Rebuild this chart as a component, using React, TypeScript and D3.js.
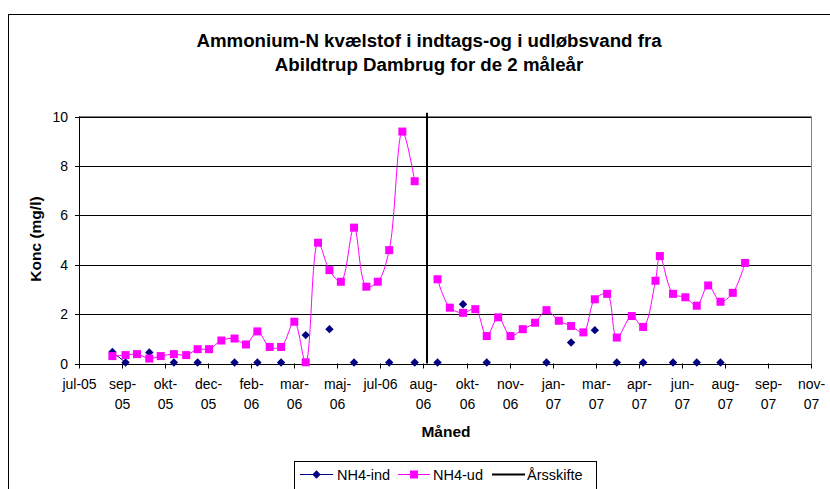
import React from 'react';
import * as d3 from 'd3';

// ---------- data ----------
const sampleDates = [
  '2005-08-30', '2005-09-14', '2005-09-27', '2005-10-11', '2005-10-24', '2005-11-08',
  '2005-11-22', '2005-12-05', '2005-12-18', '2006-01-01', '2006-01-16', '2006-01-29',
  '2006-02-11', '2006-02-25', '2006-03-10', '2006-03-25', '2006-04-07', '2006-04-21',
  '2006-05-04', '2006-05-17', '2006-06-01', '2006-06-15', '2006-06-28', '2006-07-11',
  '2006-07-26', '2006-08-09',
  '2006-09-04', '2006-09-18', '2006-10-03', '2006-10-17', '2006-10-30', '2006-11-12',
  '2006-11-26', '2006-12-10', '2006-12-24', '2007-01-06', '2007-01-20', '2007-02-03',
  '2007-02-17', '2007-03-02', '2007-03-16', '2007-03-27', '2007-04-13', '2007-04-26',
  '2007-05-10', '2007-05-15', '2007-05-30', '2007-06-13', '2007-06-26', '2007-07-09',
  '2007-07-23', '2007-08-06', '2007-08-20',
];

const udValues = [
  0.30, 0.34, 0.38, 0.20, 0.30, 0.38, 0.34, 0.58, 0.58, 0.93, 1.01, 0.77, 1.30,
  0.67, 0.67, 1.69, 0.05, 4.89, 3.78, 3.31, 5.50, 3.11, 3.31, 4.59, 9.39, 7.38,
  3.41, 2.26, 2.05, 2.20, 1.11, 1.87, 1.11, 1.39, 1.65, 2.16, 1.73, 1.52, 1.26,
  2.60, 2.82, 1.05, 1.92, 1.48, 3.35, 4.35, 2.82, 2.68, 2.34, 3.16, 2.50, 2.86, 4.07,
];

const indValues: (number | null)[] = [
  0.47, 0.04, null, 0.45, null, 0.04, null, 0.04, null, null, 0.04, null, 0.04,
  null, 0.04, null, 1.15, null, 1.39, null, 0.04, null, null, 0.04, null, 0.04,
  0.04, null, 2.40, null, 0.04, null, null, null, null, 0.04, null, 0.85, null,
  1.35, null, 0.04, null, 0.04, null, null, 0.04, null, 0.04, null, 0.04, null, null,
];

const yearChangeDate = '2006-08-23';
const yearChangeTop = 10.15;

const axisStart = '2005-07-23';
const tickStepDays = 49;
const xTickLabels = [
  'jul-05', 'sep-\n05', 'okt-\n05', 'dec-\n05', 'feb-\n06', 'mar-\n06', 'maj-\n06', 'jul-06',
  'aug-\n06', 'okt-\n06', 'nov-\n06', 'jan-\n07', 'mar-\n07', 'apr-\n07', 'jun-\n07',
  'aug-\n07', 'sep-\n07', 'nov-\n07',
];
const yTicks = [0, 2, 4, 6, 8, 10];

const titleLines = [
  'Ammonium-N kvælstof i indtags-og i udløbsvand fra',
  'Abildtrup Dambrug for de 2 måleår',
];
const yAxisTitle = 'Konc (mg/l)';
const xAxisTitle = 'Måned';
const seriesNames = ['NH4-ind', 'NH4-ud', 'Årsskifte'];

// ---------- styles ----------
const FONT = '"Liberation Sans", Arial, sans-serif';
const NAVY = '#000080';
const MAGENTA = '#FF00FF';

export default function App() {
  const parse = d3.utcParse('%Y-%m-%d');
  const start = parse(axisStart) as Date;
  const end = d3.utcDay.offset(start, tickStepDays * (xTickLabels.length - 1));
  const yc = parse(yearChangeDate) as Date;

  const left = 79, right = 811, top = 116.5, bottom = 363.5;
  const x = d3.scaleUtc().domain([start, end]).range([left, right]);
  const y = d3.scaleLinear().domain([0, 10]).range([bottom, top]);

  const dates = sampleDates.map((s) => parse(s) as Date);
  type P = { d: Date; v: number | null };
  const udPts: P[] = dates.map((d, i) => ({ d, v: udValues[i] }));
  const indPts: P[] = dates.map((d, i) => ({ d, v: indValues[i] }));
  const split = (pts: P[]) => [pts.filter((p) => p.d < yc), pts.filter((p) => p.d >= yc)];

  const udLine = d3
    .line<P>()
    .x((p) => x(p.d))
    .y((p) => y(p.v as number))
    .curve(d3.curveCatmullRom.alpha(0.5));
  const indLine = d3
    .line<P>()
    .defined((p) => p.v != null)
    .x((p) => x(p.d))
    .y((p) => y(p.v as number));

  const tickDates = xTickLabels.map((_, i) => d3.utcDay.offset(start, i * tickStepDays));
  const ycx = Math.round(x(yc));

  const legendY = 474.5;
  const diamond = (cx: number, cy: number, r: number) =>
    `M${cx},${cy - r}L${cx + r},${cy}L${cx},${cy + r}L${cx - r},${cy}Z`;

  return (
    <svg
      width={830}
      height={489}
      style={{ position: 'absolute', left: 0, top: 0, background: '#fff' }}
      fontFamily={FONT}
    >
      <rect x={0} y={0} width={830} height={489} fill="#fff" />
      {/* outer chart border */}
      <rect x={8.5} y={14.5} width={840} height={500} fill="none" stroke="#000" strokeWidth={1} />

      {/* title */}
      {titleLines.map((t, i) => (
        <text
          key={i}
          x={429}
          y={47 + i * 24}
          textAnchor="middle"
          fontSize={18.7}
          fontWeight="bold"
          fill="#000"
        >
          {t}
        </text>
      ))}

      {/* gridlines */}
      {yTicks.map((t) => (
        <line
          key={t}
          x1={left}
          x2={right}
          y1={Math.round(y(t)) + 0.5}
          y2={Math.round(y(t)) + 0.5}
          stroke="#000"
          strokeWidth={1}
        />
      ))}
      {/* plot border (top/right) */}
      <line x1={left} x2={right + 0.5} y1={top} y2={top} stroke="#808080" strokeWidth={1} />
      <line x1={right + 0.5} x2={right + 0.5} y1={top} y2={bottom} stroke="#808080" strokeWidth={1} />

      {/* y axis */}
      <line x1={left + 0.5} x2={left + 0.5} y1={top} y2={bottom + 0.5} stroke="#000" />
      {yTicks.map((t) => (
        <g key={t}>
          <line
            x1={left - 4}
            x2={left + 0.5}
            y1={Math.round(y(t)) + 0.5}
            y2={Math.round(y(t)) + 0.5}
            stroke="#000"
          />
          <text x={68} y={y(t) + 5} textAnchor="end" fontSize={14} fill="#000">
            {t}
          </text>
        </g>
      ))}

      {/* x axis */}
      <line x1={left} x2={right + 0.5} y1={Math.round(bottom) + 0.5} y2={Math.round(bottom) + 0.5} stroke="#000" />
      {tickDates.map((d, i) => {
        const tx = Math.round(x(d)) + 0.5;
        const lines = xTickLabels[i].split('\n');
        return (
          <g key={i}>
            <line x1={tx} x2={tx} y1={bottom} y2={bottom + 5} stroke="#000" />
            {lines.map((l, j) => (
              <text key={j} x={tx} y={389 + j * 20} textAnchor="middle" fontSize={14} fill="#000">
                {l}
              </text>
            ))}
          </g>
        );
      })}

      {/* axis titles */}
      <text
        transform={`translate(40.5,239) rotate(-90)`}
        textAnchor="middle"
        fontSize={15.5}
        fontWeight="bold"
        fill="#000"
      >
        {yAxisTitle}
      </text>
      <text x={446} y={437} textAnchor="middle" fontSize={15.5} fontWeight="bold" fill="#000">
        {xAxisTitle}
      </text>

      {/* NH4-ind */}
      {split(indPts).map((seg, i) => (
        <path key={i} d={indLine(seg) || ''} fill="none" stroke={NAVY} strokeWidth={1} />
      ))}
      {indPts
        .filter((p) => p.v != null)
        .map((p, i) => (
          <path key={i} d={diamond(x(p.d), y(p.v as number), 4.2)} fill={NAVY} />
        ))}

      {/* NH4-ud */}
      {split(udPts).map((seg, i) => (
        <path key={i} d={udLine(seg) || ''} fill="none" stroke={MAGENTA} strokeWidth={1} />
      ))}
      {udPts.map((p, i) => (
        <rect key={i} x={x(p.d) - 4} y={y(p.v as number) - 4} width={8} height={8} fill={MAGENTA} />
      ))}

      {/* Årsskifte */}
      <line x1={ycx} x2={ycx} y1={y(yearChangeTop)} y2={y(0)} stroke="#000" strokeWidth={2} />

      {/* legend */}
      <rect x={294.5} y={461.5} width={302} height={40} fill="#fff" stroke="#000" strokeWidth={1} />
      <line x1={300} x2={333} y1={legendY} y2={legendY} stroke={NAVY} strokeWidth={1} />
      <path d={diamond(316.5, legendY, 4.2)} fill={NAVY} />
      <text x={337} y={479.5} fontSize={14.5} fill="#000">{seriesNames[0]}</text>
      <line x1={398} x2={430} y1={legendY} y2={legendY} stroke={MAGENTA} strokeWidth={1} />
      <rect x={410} y={legendY - 4} width={8} height={8} fill={MAGENTA} />
      <text x={433} y={479.5} fontSize={14.5} fill="#000">{seriesNames[1]}</text>
      <line x1={492} x2={525} y1={legendY} y2={legendY} stroke="#000" strokeWidth={2} />
      <text x={527} y={479.5} fontSize={14.5} fill="#000">{seriesNames[2]}</text>
    </svg>
  );
}
